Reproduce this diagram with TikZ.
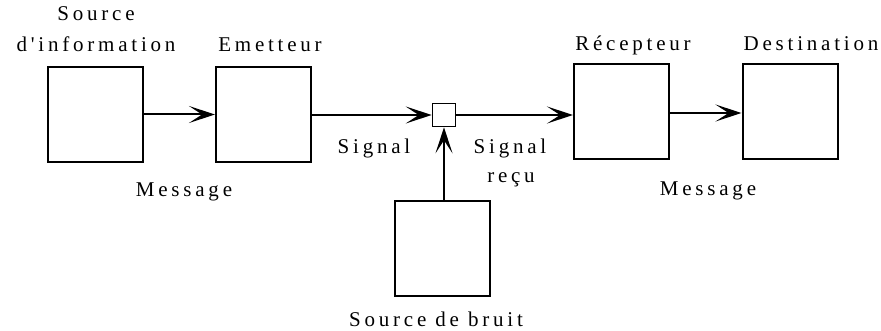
\documentclass[tikz,border=0pt]{standalone}
\usepackage{fontspec}
\setmainfont{Liberation Serif}[LetterSpace=18,Ligatures={NoCommon,TeXOff}]
\usetikzlibrary{arrows.meta}
\begin{document}
\begin{tikzpicture}[x=1pt,y=-1pt,
  blk/.style={draw,line width=2pt,minimum width=95pt,minimum height=95pt,inner sep=0pt},
  junc/.style={draw,line width=1.6pt,minimum width=23pt,minimum height=23pt,inner sep=0pt},
  lbl/.style={anchor=base,inner sep=0pt,font=\fontsize{21}{25}\selectfont},
  arr/.style={line width=2pt,-{Stealth[length=26pt,width=17pt,inset=13pt]}}]
\useasboundingbox (0,0) rectangle (881,331);
\node[blk] (src) at (95,114.5) {};
\node[blk] (em) at (263.5,115) {};
\node[junc] (j) at (444,115) {};
\node[blk] (rec) at (621.5,111.5) {};
\node[blk] (dst) at (790,111.5) {};
\node[blk] (nz) at (442.5,248.5) {};
\draw[arr] (src.east) -- (src.east -| em.west);
\draw[arr] (em.east |- j.west) -- (j.west);
\draw[arr] (j.east) -- (j.east -| rec.west);
\draw[arr] (rec.east) ++(0,1.5) coordinate (re) -- (re -| dst.west);
\draw[arr] (nz.north -| j.south) -- (j.south);
\node[lbl] (t1) at (96,21) {Source};
\node[lbl] (t2) at (96,52) {d'information};
\node[lbl] (t3) at (270,52) {Emetteur};
\node[lbl] (t4) at (184,197) {Message};
\node[lbl] (t5) at (374,154) {Signal};
\node[lbl] (t6) at (510,154) {Signal};
\node[lbl] (t7) at (511,183) {reçu};
\node[lbl] (t8) at (633,51) {Récepteur};
\node[lbl] (t9) at (811,51) {Destination};
\node[lbl] (t10) at (708,196) {Message};
\node[lbl] (t11) at (436,326) {Source de bruit};
\end{tikzpicture}
\end{document}
